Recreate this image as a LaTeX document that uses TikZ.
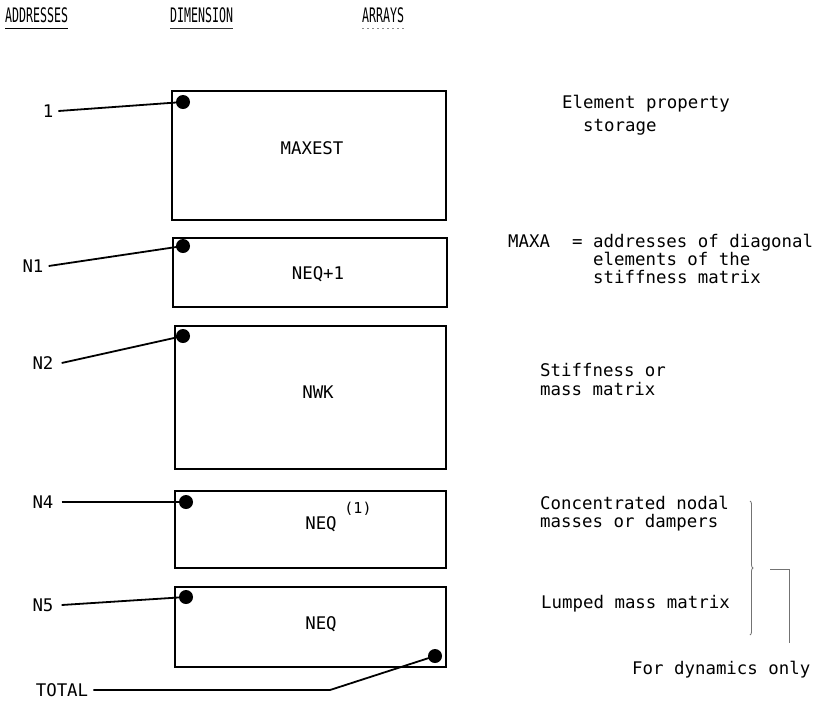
\documentclass[tikz,border=0pt]{standalone}
\usepackage{fontspec}
\setmonofont{DejaVu Sans Mono}
\usetikzlibrary{decorations.pathreplacing}
\begin{document}
\begin{tikzpicture}[x=1pt,y=-1pt,
  txt/.style={font=\ttfamily\fontsize{17.4}{20}\selectfont, inner sep=0pt, text height=12.7pt, text depth=0pt},
  hdr/.style={font=\ttfamily\fontsize{20}{22}\selectfont, inner sep=0pt, text height=14.6pt, text depth=0pt},
  membox/.style={draw, line width=1.8pt, inner sep=0pt, minimum width=#1},
  dot/.style={circle, fill, inner sep=0pt, minimum size=14pt},
  lead/.style={line width=1.8pt},
  faint/.style={draw=black!55, line width=0.8pt}]
\useasboundingbox (0,0) rectangle (826,705);

% headers
\node[hdr, anchor=west] (hA) at (5,15) {\scalebox{0.58}[1]{ADDRESSES}};
\node[hdr, anchor=west] (hD) at (170,15) {\scalebox{0.58}[1]{DIMENSION}};
\node[hdr, anchor=west] (hR) at (362,15) {\scalebox{0.58}[1]{ARRAYS}};
\draw[line width=1.3pt] ([yshift=-6pt]hA.south west) -- ([yshift=-6pt]hA.south east);
\draw[line width=1.1pt, black!80] ([yshift=-6pt]hD.south west) -- ([yshift=-6pt]hD.south east);
\draw[line width=0.8pt, black!45, dash pattern=on 2pt off 3pt] ([yshift=-6pt]hR.south west) -- ([yshift=-6pt]hR.south east);

% boxes
\node[membox=274pt, minimum height=129pt] (b1) at (309,155.5) {};
\node[membox=274pt, minimum height=69pt]  (b2) at (310,272.5) {};
\node[membox=271pt, minimum height=143pt] (b3) at (310.5,397.5) {};
\node[membox=271pt, minimum height=77pt]  (b4) at (310.5,529.5) {};
\node[membox=271pt, minimum height=80pt]  (b5) at (310.5,627) {};

% box contents
\node[txt] (t1) at (312,148) {MAXEST};
\node[txt] (t2) at (318,273) {NEQ+1};
\node[txt] (t3) at (318,392) {NWK};
\node[txt] (t4) at (321,523) {NEQ};
\node[font=\ttfamily\fontsize{15}{17}\selectfont, inner sep=0pt] (t4s) at (358,509) {(1)};
\node[txt] (t5) at (321,623) {NEQ};

% dots
\node[dot] (d1) at (183,102) {};
\node[dot] (d2) at (183,246) {};
\node[dot] (d3) at (183,336) {};
\node[dot] (d4) at (186,502) {};
\node[dot] (d5) at (186,597) {};
\node[dot] (d6) at (435,656) {};

% address labels
\node[txt] (a1) at (48,111) {1};
\node[txt] (a2) at (33,266) {N1};
\node[txt] (a3) at (43,363) {N2};
\node[txt] (a4) at (43,502) {N4};
\node[txt] (a5) at (43,605) {N5};
\node[txt] (a6) at (62,690) {TOTAL};
\coordinate (tk) at (330,690);

\draw[lead] ([xshift=5pt]a1.east) -- (d1.center);
\draw[lead] ([xshift=5pt]a2.east) -- (d2.center);
\draw[lead] ([xshift=8pt]a3.east) -- (d3.center);
\draw[lead] ([xshift=8pt]a4.east) -- (d4.center);
\draw[lead] ([xshift=8pt]a5.east) -- (d5.center);
\draw[lead] ([xshift=5pt]a6.east) -- (tk) -- (d6.center);

% array descriptions
\node[txt, anchor=west] (r1) at (562,102) {Element property};
\node[txt, anchor=west] (r1b) at (583,125) {storage};
\node[txt, anchor=west] (r2) at (508,241) {MAXA};
\node[txt, anchor=west] (r2a) at (572,241) {= addresses of diagonal};
\node[txt, anchor=west] (r2b) at (593,259) {elements of the};
\node[txt, anchor=west] (r2c) at (593,277) {stiffness matrix};
\node[txt, anchor=west] (r3) at (540,370) {Stiffness or};
\node[txt, anchor=west] (r3b) at (540,389) {mass matrix};
\node[txt, anchor=west] (r4) at (540,503) {Concentrated nodal};
\node[txt, anchor=west] (r4b) at (540,521) {masses or dampers};
\node[txt, anchor=west] (r5) at (541,602) {Lumped mass matrix};
\node[txt, anchor=west] (r6) at (632,668) {For dynamics only};

% brackets
\coordinate (brT) at (750,501);
\coordinate (brB) at (750,635);
\draw[faint, decorate, decoration={brace, amplitude=3pt}] (brT) -- (brB);
\coordinate (bk1) at (770,569);
\coordinate (bk2) at (789,569);
\coordinate (bk3) at (789,643);
\draw[faint] (bk1) -- (bk2) -- (bk3);
\end{tikzpicture}
\end{document}
